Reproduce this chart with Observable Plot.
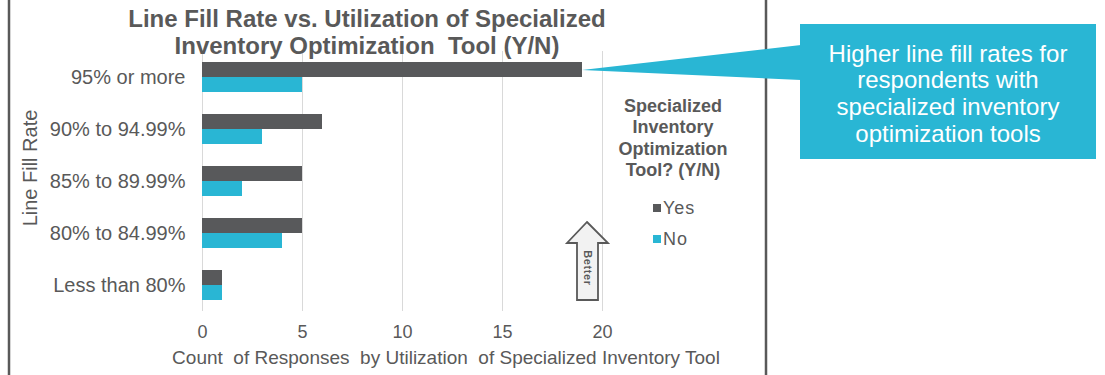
<!DOCTYPE html>
<html>
<head>
<meta charset="utf-8">
<script src="https://cdn.jsdelivr.net/npm/d3@7"></script>
<script src="https://cdn.jsdelivr.net/npm/@observablehq/plot@0.6"></script>
<style>
  html, body { margin: 0; padding: 0; background: #fff; }
  svg { display: block; }
</style>
</head>
<body>
<div id="chart"></div>
<script>
const categories = ["95% or more", "90% to 94.99%", "85% to 89.99%", "80% to 84.99%", "Less than 80%"];
const yesValues = [19, 6, 5, 5, 1];
const noValues = [5, 3, 2, 4, 1];
const xTicks = [0, 5, 10, 15, 20];
const seriesNames = ["Yes", "No"];
const titleLines = ["Line Fill Rate vs. Utilization of Specialized", "Inventory Optimization  Tool (Y/N)"];
const legendTitleLines = ["Specialized", "Inventory", "Optimization", "Tool? (Y/N)"];
const calloutLines = ["Higher line fill rates for", "respondents with", "specialized inventory", "optimization tools"];
const yTitle = "Line Fill Rate";
const xTitle = "Count  of Responses  by Utilization  of Specialized Inventory Tool";
const betterLabel = "Better";

const DARK = "#58595b";
const CYAN = "#29b6d4";
const TEXT = "#595959";

const yesData = categories.map((c, i) => ({category: c, value: yesValues[i]}));
const noData = categories.map((c, i) => ({category: c, value: noValues[i]}));

const chart = Plot.plot({
  width: 1105,
  height: 375,
  marginLeft: 202,
  marginRight: 503,
  marginTop: 51,
  marginBottom: 64,
  style: {fontFamily: "'Liberation Sans', Arial, sans-serif", color: TEXT, background: "#fff"},
  x: {domain: [0, 20]},
  y: {domain: categories, paddingInner: 22 / 52, paddingOuter: 11 / 52},
  marks: [
    Plot.gridX(xTicks, {stroke: "#d9d9d9", strokeOpacity: 1}),
    Plot.barX(yesData, {x: "value", y: "category", fill: DARK, insetBottom: 15, insetTop: 0}),
    Plot.barX(noData, {x: "value", y: "category", fill: CYAN, insetTop: 15, insetBottom: 0}),
    Plot.axisY({tickSize: 0, tickPadding: 17, fontSize: 20, label: null, fill: TEXT}),
    Plot.axisX(xTicks, {tickSize: 0, tickPadding: 14, fontSize: 18, label: null, fill: TEXT})
  ]
});

document.getElementById("chart").appendChild(chart);

const svg = d3.select(chart);
const xs = chart.scale("x");
const ys = chart.scale("y");
const font = "'Liberation Sans', Arial, sans-serif";

const g = svg.append("g").attr("text-anchor", "start");

// chart frame lines
g.append("line").attr("x1", 9).attr("x2", 9).attr("y1", 0).attr("y2", 375)
  .attr("stroke", TEXT).attr("stroke-width", 2.5);
g.append("line").attr("x1", 766).attr("x2", 766).attr("y1", 0).attr("y2", 375)
  .attr("stroke", TEXT).attr("stroke-width", 2.5);

// title
titleLines.forEach((t, i) => {
  g.append("text").attr("x", 367).attr("y", 18 + i * 27)
    .attr("text-anchor", "middle").attr("dominant-baseline", "central")
    .attr("font-family", font).attr("font-weight", "bold").attr("font-size", 24)
    .attr("fill", TEXT).style("white-space", "pre").text(t);
});

// y title
g.append("text").attr("transform", "translate(30,168) rotate(-90)")
  .attr("text-anchor", "middle").attr("dominant-baseline", "central")
  .attr("font-family", font).attr("font-size", 20).attr("fill", TEXT).text(yTitle);

// x title
g.append("text").attr("x", 446).attr("y", 357)
  .attr("text-anchor", "middle").attr("dominant-baseline", "central")
  .attr("font-family", font).attr("font-size", 19).attr("fill", TEXT)
  .style("white-space", "pre").text(xTitle);

// legend
legendTitleLines.forEach((t, i) => {
  g.append("text").attr("x", 673).attr("y", 106 + i * 21.3)
    .attr("text-anchor", "middle").attr("dominant-baseline", "central")
    .attr("font-family", font).attr("font-weight", "bold").attr("font-size", 18)
    .attr("fill", TEXT).text(t);
});
[DARK, CYAN].forEach((c, i) => {
  const cy = 208 + i * 31;
  g.append("rect").attr("x", 653).attr("y", cy - 4).attr("width", 8).attr("height", 8).attr("fill", c);
  g.append("text").attr("x", 663).attr("y", cy)
    .attr("text-anchor", "start").attr("dominant-baseline", "central")
    .attr("font-family", font).attr("font-size", 18)
    .attr("letter-spacing", 1).attr("fill", TEXT).text(seriesNames[i]);
});

// Better arrow
const arrowPts = [[587, 222], [608, 243], [598, 243], [598, 300], [577, 300], [577, 243], [567, 243]];
g.append("polygon").attr("points", arrowPts.map(p => p.join(",")).join(" "))
  .attr("fill", "#f2f2f2").attr("stroke", TEXT).attr("stroke-width", 1.8).attr("stroke-linejoin", "miter");
g.append("text").attr("transform", "translate(588,268) rotate(90)")
  .attr("text-anchor", "middle").attr("dominant-baseline", "central")
  .attr("font-family", font).attr("font-weight", "bold").attr("font-size", 11)
  .attr("letter-spacing", 0.6).attr("fill", TEXT).text(betterLabel);

// callout
const tipX = xs.apply(yesValues[0]);
const tipY = ys.apply(categories[0]) + 8;
g.append("polygon")
  .attr("points", [[tipX, tipY], [801, 45], [801, 80]].map(p => p.join(",")).join(" "))
  .attr("fill", CYAN);
g.append("rect").attr("x", 800).attr("y", 24).attr("width", 296).attr("height", 135).attr("fill", CYAN);
calloutLines.forEach((t, i) => {
  g.append("text").attr("x", 948).attr("y", 53 + i * 26.7)
    .attr("text-anchor", "middle").attr("dominant-baseline", "central")
    .attr("font-family", font).attr("font-size", 24).attr("fill", "#fff").text(t);
});
</script>
</body>
</html>
